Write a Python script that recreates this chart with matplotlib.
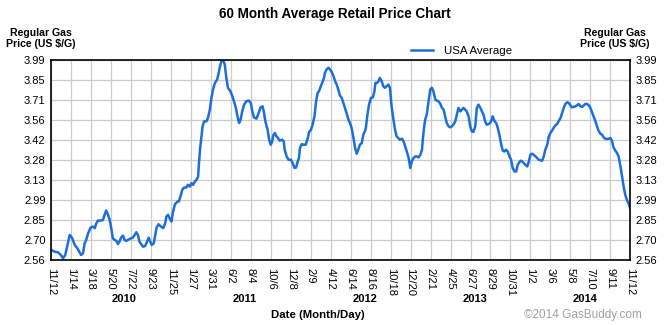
import datetime as dt
import matplotlib
matplotlib.use("Agg")
import matplotlib.pyplot as plt
import matplotlib.dates as mdates

plt.rcParams['font.family'] = ['Liberation Sans', 'DejaVu Sans']

start = dt.date(2009, 11, 12)
end = dt.date(2014, 11, 12)

# days after 11/12/2009 and the USA average price
days = [0, 12, 22, 31, 38, 45, 50, 59, 66, 75, 83, 90, 95, 101, 106, 111, 117, 125,
        132, 138, 143, 148, 158, 164, 169, 174, 180, 185, 190, 195, 201, 206, 211,
        216, 221, 227, 232, 237, 248, 253, 258, 264, 269, 274, 279, 290, 297, 303,
        308, 312, 318, 324, 329, 333, 339, 347, 354, 360, 364, 369, 375, 380, 385,
        391, 399, 403, 410, 414, 420, 427, 432, 438, 443, 448, 454, 459, 464, 467,
        470, 475, 478, 483, 490, 495, 501, 506, 511, 517, 524, 529, 532, 538, 543,
        548, 553, 558, 566, 572, 577, 583, 588, 593, 598, 603, 609, 616, 624, 630,
        635, 640, 648, 655, 661, 667, 671, 676, 683, 688, 693, 697, 701, 706, 711,
        716, 721, 729, 734, 737, 743, 749, 757, 762, 768, 773, 778, 782, 785, 791,
        796, 803, 810, 814, 820, 825, 831, 836, 841, 845, 851, 856, 861, 864, 869,
        875, 880, 885, 891, 896, 901, 906, 911, 917, 922, 927, 932, 938, 943, 948,
        954, 959, 964, 969, 974, 980, 985, 990, 993, 998, 1003, 1009, 1015, 1020,
        1023, 1028, 1033, 1037, 1043, 1048, 1053, 1058, 1064, 1069, 1074, 1080,
        1085, 1090, 1095, 1100, 1107, 1112, 1117, 1122, 1128, 1133, 1138, 1143,
        1149, 1154, 1159, 1165, 1170, 1173, 1177, 1180, 1185, 1191, 1196, 1201,
        1206, 1212, 1217, 1222, 1228, 1233, 1238, 1243, 1248, 1254, 1259, 1264,
        1269, 1275, 1280, 1285, 1291, 1296, 1301, 1306, 1311, 1317, 1322, 1327,
        1332, 1338, 1343, 1348, 1354, 1359, 1364, 1369, 1374, 1380, 1385, 1390,
        1393, 1399, 1404, 1409, 1414, 1420, 1425, 1430, 1435, 1440, 1446, 1451,
        1456, 1462, 1467, 1472, 1475, 1481, 1486, 1491, 1496, 1502, 1507, 1512,
        1517, 1522, 1528, 1533, 1538, 1549, 1554, 1559, 1565, 1570, 1575, 1580,
        1585, 1591, 1596, 1601, 1607, 1612, 1617, 1622, 1628, 1633, 1638, 1643,
        1648, 1654, 1659, 1664, 1670, 1675, 1680, 1685, 1691, 1696, 1701, 1706,
        1711, 1717, 1722, 1727, 1733, 1738, 1743, 1748, 1754, 1759, 1764, 1769,
        1774, 1780, 1785, 1790, 1796, 1801, 1806, 1811, 1817, 1822, 1826]
price = [2.632, 2.619, 2.615, 2.596, 2.572, 2.596, 2.648, 2.739, 2.719, 2.667, 2.644,
         2.615, 2.596, 2.608, 2.679, 2.703, 2.751, 2.791, 2.798, 2.787, 2.822, 2.841,
         2.841, 2.846, 2.882, 2.913, 2.882, 2.846, 2.787, 2.715, 2.703, 2.696, 2.674,
         2.691, 2.719, 2.734, 2.703, 2.696, 2.710, 2.715, 2.719, 2.739, 2.758, 2.739,
         2.691, 2.655, 2.660, 2.691, 2.719, 2.696, 2.667, 2.679, 2.739, 2.791, 2.815,
         2.798, 2.787, 2.822, 2.870, 2.882, 2.853, 2.834, 2.905, 2.958, 2.977, 2.977,
         3.025, 3.061, 3.077, 3.077, 3.096, 3.084, 3.108, 3.096, 3.120, 3.132, 3.156,
         3.263, 3.347, 3.454, 3.513, 3.549, 3.549, 3.573, 3.633, 3.716, 3.776, 3.823,
         3.847, 3.895, 3.931, 3.983, 3.985, 3.954, 3.859, 3.788, 3.763, 3.728, 3.692,
         3.645, 3.585, 3.537, 3.561, 3.620, 3.668, 3.692, 3.697, 3.680, 3.620, 3.577,
         3.568, 3.609, 3.649, 3.656, 3.620, 3.549, 3.490, 3.418, 3.382, 3.402, 3.449,
         3.466, 3.442, 3.430, 3.411, 3.418, 3.406, 3.347, 3.299, 3.275, 3.275, 3.251,
         3.216, 3.220, 3.263, 3.287, 3.359, 3.387, 3.382, 3.382, 3.430, 3.473, 3.490,
         3.525, 3.585, 3.692, 3.752, 3.763, 3.799, 3.831, 3.859, 3.895, 3.919, 3.931,
         3.919, 3.902, 3.871, 3.835, 3.811, 3.776, 3.735, 3.716, 3.680, 3.645, 3.609,
         3.561, 3.537, 3.502, 3.430, 3.359, 3.318, 3.347, 3.382, 3.394, 3.454, 3.478,
         3.502, 3.597, 3.668, 3.716, 3.720, 3.763, 3.823, 3.823, 3.835, 3.859, 3.835,
         3.799, 3.788, 3.799, 3.811, 3.788, 3.656, 3.561, 3.490, 3.442, 3.430, 3.418,
         3.425, 3.406, 3.370, 3.334, 3.287, 3.216, 3.263, 3.287, 3.299, 3.299, 3.291,
         3.311, 3.347, 3.430, 3.513, 3.561, 3.597, 3.692, 3.776, 3.788, 3.763, 3.704,
         3.697, 3.692, 3.673, 3.645, 3.633, 3.585, 3.537, 3.513, 3.506, 3.513, 3.525,
         3.549, 3.597, 3.645, 3.620, 3.633, 3.645, 3.633, 3.620, 3.585, 3.513, 3.478,
         3.473, 3.513, 3.645, 3.668, 3.645, 3.620, 3.597, 3.549, 3.525, 3.530, 3.537,
         3.561, 3.585, 3.549, 3.537, 3.502, 3.454, 3.382, 3.339, 3.334, 3.347, 3.334,
         3.299, 3.275, 3.216, 3.191, 3.191, 3.239, 3.251, 3.268, 3.263, 3.251, 3.239,
         3.227, 3.263, 3.311, 3.318, 3.311, 3.299, 3.287, 3.275, 3.268, 3.299, 3.347,
         3.382, 3.442, 3.466, 3.482, 3.502, 3.520, 3.530, 3.549, 3.573, 3.609, 3.645,
         3.673, 3.685, 3.680, 3.663, 3.649, 3.652, 3.656, 3.663, 3.673, 3.656, 3.652,
         3.663, 3.673, 3.673, 3.663, 3.645, 3.616, 3.585, 3.549, 3.513, 3.482, 3.459,
         3.454, 3.434, 3.425, 3.423, 3.425, 3.430, 3.411, 3.363, 3.339, 3.323, 3.299,
         3.227, 3.156, 3.084, 3.025, 2.984, 2.960, 2.932]

tick_dates = ["2009-11-12", "2010-01-14", "2010-03-18", "2010-05-20", "2010-07-22",
              "2010-09-23", "2010-11-25", "2011-01-27", "2011-03-31", "2011-06-02",
              "2011-08-04", "2011-10-06", "2011-12-08", "2012-02-09", "2012-04-12",
              "2012-06-14", "2012-08-16", "2012-10-18", "2012-12-20", "2013-02-21",
              "2013-04-25", "2013-06-27", "2013-08-29", "2013-10-31", "2014-01-02",
              "2014-03-06", "2014-05-08", "2014-07-10", "2014-09-11", "2014-11-12"]
tick_labels = ["11/12", "1/14", "3/18", "5/20", "7/22", "9/23", "11/25", "1/27",
               "3/31", "6/2", "8/4", "10/6", "12/8", "2/9", "4/12", "6/14", "8/16",
               "10/18", "12/20", "2/21", "4/25", "6/27", "8/29", "10/31", "1/2",
               "3/6", "5/8", "7/10", "9/11", "11/12"]
y_labels = ["2.56", "2.70", "2.85", "2.99", "3.13", "3.28", "3.42", "3.56", "3.71",
            "3.85", "3.99"]
years = ["2010", "2011", "2012", "2013", "2014"]
year_dates = ["2010-07-01", "2011-07-16", "2012-07-28", "2013-07-10", "2014-06-24"]

x = [start + dt.timedelta(days=d) for d in days]

fig = plt.figure(figsize=(6.7, 3.25), dpi=100)
ax = fig.add_axes([51 / 670, 65 / 325, 579 / 670, 200.5 / 325])

ax.plot(x, price, color='#1c6fd9', lw=1.8, label='USA Average', solid_joinstyle='round')

ymin, ymax = 2.56, 3.99
step = (ymax - ymin) / 10
ax.set_ylim(ymin, ymax)
ax.set_yticks([ymin + i * step for i in range(11)])
ax.set_yticklabels(y_labels)
ax.set_xlim(start, end)
ax.set_xticks([dt.date.fromisoformat(d) for d in tick_dates])
ax.set_xticklabels(tick_labels, rotation=-90)

ax.grid(True, color='#cccccc', lw=0.9)
ax.set_axisbelow(True)
for s in ax.spines.values():
    s.set_color('black')
    s.set_linewidth(1.2)

ax.tick_params(axis='y', length=0, pad=4, labelsize=8, labelleft=True, labelright=True)
ax.tick_params(axis='x', length=0, pad=6, labelsize=8)

for yr, d in zip(years, year_dates):
    ax.text(dt.date.fromisoformat(d), -0.195, yr, transform=ax.get_xaxis_transform(),
            ha='center', va='center', fontsize=8, fontweight='bold')

fig.text(0.5, 0.958, "60 Month Average Retail Price Chart", ha='center', va='center',
         fontsize=9.75, fontweight='bold')
fig.text(40.5 / 670, 1 - 38.5 / 325, "Regular Gas\nPrice (US $/G)", ha='center',
         va='center', fontsize=7.6, fontweight='bold', linespacing=1.15)
fig.text(614.5 / 670, 1 - 38.5 / 325, "Regular Gas\nPrice (US $/G)", ha='center',
         va='center', fontsize=7.6, fontweight='bold', linespacing=1.15)
fig.text(318 / 670, 1 - 315 / 325, "Date (Month/Day)", ha='center', va='center',
         fontsize=8.2, fontweight='bold')
fig.text(583 / 670, 1 - 315 / 325, "\u00a92014 GasBuddy.com", ha='center', va='center',
         fontsize=8.5, color='#a0a0a0')

ax.legend(loc='center left', bbox_to_anchor=(411 / 670, 1 - 50.5 / 325),
          bbox_transform=fig.transFigure, frameon=False, fontsize=8.25,
          handlelength=1.9, handletextpad=1.0, borderpad=0, borderaxespad=0)

fig.savefig("out.png", dpi=100)
